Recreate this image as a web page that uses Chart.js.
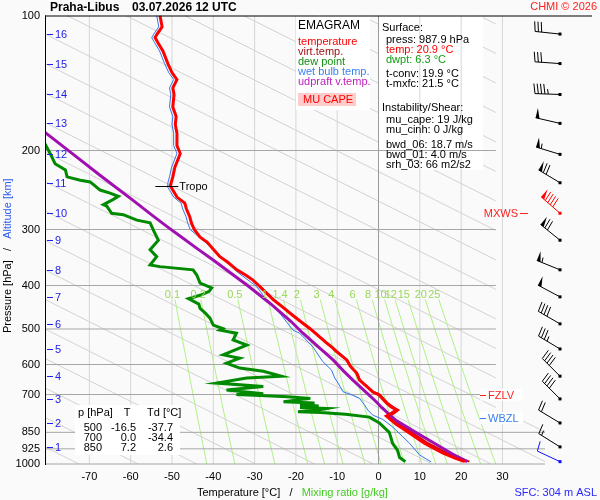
<!DOCTYPE html>
<html><head><meta charset="utf-8">
<script src="https://cdn.jsdelivr.net/npm/chart.js"></script>
<style>html,body{margin:0;padding:0;background:#fafafa;}canvas{display:block;}</style>
</head><body>
<canvas id="c" width="600" height="500" style="width:600px;height:500px"></canvas>
<script>
const FONT = "'Liberation Sans', Arial, Helvetica, sans-serif";

// ---- axes / grid ----
const X_MIN = -80.5, X_MAX = 40.3;
const X_TICKS = [-70, -60, -50, -40, -30, -20, -10, 0, 10, 20, 30];
const P_TICKS = [100, 200, 300, 400, 500, 600, 700, 850, 925, 1000];
const ISOTHERMS = [-70, -60, -50, -40, -30, -20, -10, 10, 20, 30];
const ISOBARS = [200, 300, 400, 500, 600, 700, 850, 925, 1000];
const ISOBAR_END = [28.4, 28.4, 28.4, 28.4, 28.4, 28.4, 40.3, 40.3, 40.3];
const MIX_RATIOS = [0.1, 0.2, 0.5, 1, 1.4, 2, 3, 4, 6, 8, 10, 12, 15, 20, 25];
const MIX_LABELS = ['0.1', '0.2', '0.5', '1', '1.4', '2', '3', '4', '6', '8', '10', '12', '15', '20', '25'];
const MIX_P = [430, 500, 600, 700, 800, 900, 1000];
// background diagonal guide lines: temperature at 1000 hPa of the first line, spacing, slope per pressure decade
const GUIDE_T1000_START = 469.0, GUIDE_STEP = 14.25, GUIDE_COUNT = 39, GUIDE_K = 216.7;

// ---- profiles ----
const TEMP_P = [988, 970, 945, 900, 850, 815, 782, 770, 758, 745, 731, 700, 691, 670, 650, 627, 606, 586, 560, 551, 537, 500, 485, 466, 447, 430, 416, 400, 389, 380, 369, 355, 345, 332, 320, 312, 300, 290, 281, 270, 262, 254, 245, 240, 236, 229, 218, 210, 203, 195, 183, 175, 168, 160, 150, 145, 139, 134, 128, 120, 115, 112, 110, 106, 100];
const TEMP_T = [20.9, 18.5, 15.5, 11.2, 7.2, 4.2, 1.9, 3.2, 4.3, 3.0, 1.9, 0.0, -1.4, -3.0, -4.6, -5.3, -6.8, -7.7, -10.3, -11.1, -12.6, -16.5, -18.4, -20.8, -23.2, -25.5, -27.1, -29.0, -30.4, -32.0, -34.3, -36.5, -38.4, -40.0, -41.5, -43.2, -44.6, -45.3, -45.7, -46.5, -46.9, -48.8, -49.8, -50.4, -50.2, -49.8, -49.3, -48.6, -48.0, -48.8, -48.8, -49.2, -49.0, -49.8, -49.5, -49.8, -48.8, -50.0, -51.0, -52.2, -53.4, -54.1, -53.6, -52.4, -52.9];

const VIRT_P = [988, 970, 945, 900, 850, 815, 782, 770, 758, 745, 731, 700, 691, 670, 650, 627, 606, 586, 560, 551, 537, 500, 485, 466, 447, 430, 416, 400];
const VIRT_T = [22.0, 19.6, 16.5, 12.1, 8.0, 4.9, 2.6, 3.8, 4.8, 3.4, 2.2, 0.3, -1.2, -2.8, -4.5, -5.2, -6.7, -7.6, -10.2, -11.0, -12.5, -16.4, -18.3, -20.7, -23.1, -25.4, -27.0, -28.9];

const WETB_P = [989, 954, 899, 870, 828, 795, 778, 758, 738, 714, 703, 690, 660, 643, 617, 591, 548, 511, 503, 461, 431, 402, 372, 327, 300, 290, 281, 270, 262, 254, 245, 240, 236, 229, 218, 210, 203, 195, 183, 175, 168, 160, 150, 145, 139, 134, 128, 120, 115, 112, 110, 106, 100];
const WETB_T = [12.7, 9.9, 7.5, 5.9, 3.5, 1.0, -1.4, -2.6, -3.4, -4.6, -6.2, -8.6, -9.8, -10.6, -11.4, -13.5, -15.9, -19.1, -20.7, -23.9, -27.1, -29.5, -34.4, -40.8, -45.6, -46.2, -46.6, -47.4, -47.8, -49.6, -50.6, -51.2, -51.0, -50.6, -50.1, -49.4, -48.8, -49.6, -49.6, -50.0, -49.8, -50.6, -50.3, -50.6, -49.6, -50.8, -51.8, -53.0, -54.2, -54.9, -54.4, -53.2, -53.7];

const DEW_P = [988, 967, 932, 899, 850, 810, 786, 775, 768, 765, 758, 752, 748, 742, 737, 731, 726, 714, 708, 703, 700, 697, 684, 672, 660, 643, 637, 621, 611, 596, 581, 571, 543, 529, 511, 503, 499, 490, 473, 460, 450, 440, 428, 420, 412, 405, 399, 395, 379, 369, 363, 360, 345, 333, 317, 301, 290, 286, 278, 276, 266, 264, 257, 253, 249, 245, 235, 233, 229, 221, 214, 203, 193];
const DEW_T = [6.5, 5.1, 4.6, 3.4, 2.6, 0.2, -2.2, -8.0, -14.0, -19.5, -14.6, -12.5, -19.0, -14.5, -19.0, -15.5, -23.0, -16.5, -22.0, -30.0, -34.4, -27.9, -36.8, -27.9, -39.2, -31.9, -23.5, -27.9, -33.6, -36.8, -33.6, -37.6, -31.9, -35.2, -34.4, -38.4, -37.7, -40.0, -40.8, -42.0, -43.2, -43.5, -46.0, -43.0, -41.0, -40.4, -42.0, -43.2, -44.0, -44.9, -52.9, -55.3, -53.7, -55.3, -53.3, -54.5, -55.3, -58.5, -61.8, -64.6, -65.8, -66.6, -64.2, -63.0, -65.0, -67.4, -69.8, -72.2, -75.4, -75.8, -78.3, -79.5, -80.8];

const UPD_P = [988, 950, 900, 850, 800, 780, 750, 720, 692, 650, 620, 586, 551, 511, 480, 438, 402, 375, 350, 331, 311, 296, 278, 258, 228, 203, 183, 175];
const UPD_T = [21.5, 17.9, 13.6, 9.0, 4.3, 2.9, 0.9, -1.0, -3.0, -6.2, -8.5, -11.0, -14.3, -18.3, -21.3, -26.3, -31.4, -35.8, -40.2, -43.9, -47.9, -51.1, -55.0, -59.5, -67.2, -74.2, -80.5, -83.0];

// ---- altitude scale and winds ----
const ALT_KM = [1, 2, 3, 4, 5, 6, 7, 8, 9, 10, 11, 12, 13, 14, 15, 16];
const ALT_P = [916, 810, 716, 637, 554, 487, 424, 369, 317, 276, 236, 204, 174, 150, 128, 110];
const WIND_P = [988, 916, 810, 716, 637, 554, 487, 424, 369, 317, 276, 236, 204, 174, 150, 128, 110];
const WIND_DIR = [295, 302, 301, 315, 315, 301, 300, 298, 292, 309, 311, 301, 287, 283, 272, 274, 276];
const WIND_SPD = [10, 15, 20, 40, 40, 35, 40, 50, 55, 70, 90, 70, 55, 50, 45, 30, 30];
const WIND_COLOR = ['#1010ff', '#000', '#000', '#000', '#000', '#000', '#000', '#000', '#000', '#000', '#ff0000', '#000', '#000', '#000', '#000', '#000', '#000'];

// ---- levels and table ----
const TROPO_P = 240, TROPO_T = -50.4;
const FZLV_P = 700, WBZL_P = 790, MXWS_P = 276;
const TABLE_P = [500, 700, 850];
const TABLE_T = [-16.5, 0.0, 7.2];
const TABLE_TD = [-37.7, -34.4, 2.6];

const SURFACE_LINES = [
  ['Surface:', '#000', 382, 27.5],
  ['press: 987.9 hPa', '#000', 386, 40],
  ['temp: 20.9 °C', '#ff0000', 386, 50],
  ['dwpt: 6.3 °C', '#10a010', 386, 60],
  ['t-conv: 19.9 °C', '#000', 386, 74],
  ['t-mxfc: 21.5 °C', '#000', 386, 84],
  ['Instability/Shear:', '#000', 382, 108],
  ['mu_cape: 19 J/kg', '#000', 386, 119.5],
  ['mu_cinh: 0 J/kg', '#000', 386, 129.5],
  ['bwd_06: 18.7 m/s', '#000', 386, 145],
  ['bwd_01: 4.0 m/s', '#000', 386, 155],
  ['srh_03: 66 m2/s2', '#000', 386, 165]
];
const LEGEND_ITEMS = [
  ['temperature', '#ff0000'],
  ['virt.temp.', '#a01010'],
  ['dew point', '#109010'],
  ['wet bulb temp.', '#3a80f0'],
  ['udpraft v.temp.', '#c020c0']
];

// ---------------------------------------------------------------
function pts(P, T) { return P.map((p, i) => ({ x: T[i], y: p })); }
const GAP = { x: null, y: null };

function mixT(w, p) { const e = w * p / (622 + w); const l = Math.log(e / 6.112); return 243.5 * l / (17.67 - l); }

const guideData = [];
for (let n = 0; n < GUIDE_COUNT; n++) {
  const t0 = GUIDE_T1000_START - n * GUIDE_STEP;
  const tAt = p => t0 - GUIDE_K * (3 - Math.log10(p));
  guideData.push({ x: tAt(790), y: 790 }, { x: t0, y: 1000 }, GAP);
  if (tAt(100) <= 28.4) {
    let endP = 790, endT = tAt(790);
    if (endT > 28.4) { endP = Math.pow(10, 3 - (t0 - 28.4) / GUIDE_K); endT = 28.4; }
    guideData.push({ x: tAt(100), y: 100 }, { x: endT, y: endP }, GAP);
  }
}
const mixData = [];
MIX_RATIOS.forEach(w => { MIX_P.forEach(p => mixData.push({ x: mixT(w, p), y: p })); mixData.push(GAP); });
const isoTData = [];
ISOTHERMS.forEach(t => isoTData.push({ x: t, y: 1000 }, { x: t, y: 100 }, GAP));
const isoPData = [];
ISOBARS.forEach((p, i) => isoPData.push({ x: X_MIN, y: p }, { x: ISOBAR_END[i], y: p }, GAP));

const base = { showLine: true, pointRadius: 0, pointHoverRadius: 0, fill: false, tension: 0, spanGaps: false };
const datasets = [
  Object.assign({ id: 'guide', data: guideData, borderColor: '#d2d2d2', borderWidth: 1 }, base),
  Object.assign({ id: 'mix', data: mixData, borderColor: '#b0f088', borderWidth: 1 }, base),
  Object.assign({ id: 'isoT', data: isoTData, borderColor: '#d6d6d6', borderWidth: 1 }, base),
  Object.assign({ id: 'isoT0', data: [{ x: 0, y: 1000 }, { x: 0, y: 100 }], borderColor: '#9a9a9a', borderWidth: 1 }, base),
  Object.assign({ id: 'isoP', data: isoPData, borderColor: '#a6a6a6', borderWidth: 1, clip: 1 }, base),
  Object.assign({ id: 'virt', data: pts(VIRT_P, VIRT_T), borderColor: '#e00000', borderWidth: 2 }, base),
  Object.assign({ id: 'wetb', data: pts(WETB_P, WETB_T), borderColor: '#2f78e8', borderWidth: 1 }, base),
  Object.assign({ id: 'dew', data: pts(DEW_P, DEW_T), borderColor: '#008a00', borderWidth: 3 }, base),
  Object.assign({ id: 'upd', data: pts(UPD_P, UPD_T), borderColor: '#a010b0', borderWidth: 3 }, base),
  Object.assign({ id: 'temp', data: pts(TEMP_P, TEMP_T), borderColor: '#ff0000', borderWidth: 3 }, base)
];
datasets.forEach((d, i) => { d.order = datasets.length - i; });

function drawBarb(c, x, y, dir, spd, color) {
  const r = dir * Math.PI / 180;
  const dx = Math.sin(r), dy = -Math.cos(r);
  const px = -dy, py = dx;
  const L = 25, BL = 10, SP = 3.3;
  c.save();
  c.strokeStyle = color; c.fillStyle = color; c.lineWidth = 1;
  c.beginPath(); c.moveTo(x, y); c.lineTo(x + dx * L, y + dy * L); c.stroke();
  c.fillRect(x - 1.5, y - 1.5, 3, 3);
  let s = spd, pos = L;
  while (s >= 50) {
    const bx = x + dx * pos, by = y + dy * pos;
    c.beginPath(); c.moveTo(bx, by); c.lineTo(bx + px * BL, by + py * BL);
    c.lineTo(x + dx * (pos - 4), y + dy * (pos - 4)); c.closePath(); c.fill();
    pos -= 5.5; s -= 50;
  }
  while (s >= 10) {
    const bx = x + dx * pos, by = y + dy * pos;
    c.beginPath(); c.moveTo(bx, by); c.lineTo(bx + px * BL + dx * 1.5, by + py * BL + dy * 1.5); c.stroke();
    pos -= SP; s -= 10;
  }
  if (s >= 5) {
    if (pos === L) pos -= SP;
    const bx = x + dx * pos, by = y + dy * pos;
    c.beginPath(); c.moveTo(bx, by); c.lineTo(bx + px * BL * 0.5 + dx * 0.8, by + py * BL * 0.5 + dy * 0.8); c.stroke();
  }
  c.restore();
}

function whiteBox(c, x0, y0, x1, y1, col) { c.fillStyle = col || '#ffffff'; c.fillRect(x0, y0, x1 - x0, y1 - y0); }

const emagramPlugin = {
  id: 'emagram',
  beforeDraw(chart) {
    const c = chart.ctx; c.save(); c.fillStyle = '#fafafa'; c.fillRect(0, 0, chart.width, chart.height); c.restore();
  },
  beforeDatasetDraw(chart, args) {
    const ds = chart.data.datasets[args.index];
    const c = chart.ctx;
    const ys = chart.scales.y;
    c.save();
    if (ds.id === 'mix') {
      whiteBox(c, 379, 16, 483, 170);
    }
    if (ds.id === 'virt') {
      whiteBox(c, 296, 16, 370, 110);
      whiteBox(c, 75, 405, 180, 455);
      const yf = ys.getPixelForValue(FZLV_P), yw = ys.getPixelForValue(WBZL_P);
      whiteBox(c, 480, yf - 6, 523, yf + 6);
      whiteBox(c, 480, yw - 6, 523, yw + 6);
    }
    c.restore();
  },
  afterDatasetsDraw(chart) {
    const c = chart.ctx;
    const xs = chart.scales.x, ys = chart.scales.y, ca = chart.chartArea;
    c.save();
    c.textBaseline = 'middle';
    const yTop = Math.round(ys.getPixelForValue(100)) - 0.5;
    c.strokeStyle = '#000'; c.lineWidth = 1;
    c.beginPath(); c.moveTo(ca.left - 1, yTop + 0.5); c.lineTo(592, yTop + 0.5); c.stroke();
    c.beginPath(); c.moveTo(Math.round(ca.left) - 0.5, yTop); c.lineTo(Math.round(ca.left) - 0.5, ca.bottom + 1); c.stroke();

    c.font = '11px ' + FONT; c.fillStyle = '#9ad85a'; c.textAlign = 'center';
    MIX_RATIOS.forEach((w, i) => { c.fillText(MIX_LABELS[i], xs.getPixelForValue(mixT(w, 400)), ys.getPixelForValue(420)); });

    c.font = '11px ' + FONT; c.textAlign = 'left';
    c.strokeStyle = '#2020ee'; c.fillStyle = '#2020ee';
    ALT_KM.forEach((km, i) => {
      const y = Math.round(ys.getPixelForValue(ALT_P[i])) + 0.5;
      c.beginPath(); c.moveTo(47, y); c.lineTo(53, y); c.stroke();
      c.fillText(String(km), 55, y);
    });

    const ty = Math.round(ys.getPixelForValue(TROPO_P)) + 0.5, tx = xs.getPixelForValue(TROPO_T);
    c.strokeStyle = '#000'; c.fillStyle = '#000';
    c.beginPath(); c.moveTo(tx - 15, ty); c.lineTo(tx + 8, ty); c.stroke();
    c.fillText('Tropo', tx + 9, ty);

    c.font = '12px ' + FONT; c.fillStyle = '#000';
    c.fillText('EMAGRAM', 298, 26);
    c.font = '11px ' + FONT;
    LEGEND_ITEMS.forEach((it, i) => { c.fillStyle = it[1]; c.fillText(it[0], 298, 42 + i * 10); });
    c.fillStyle = '#ffcccc'; c.fillRect(298, 93, 58, 13);
    c.fillStyle = '#ff0000'; c.fillText('MU CAPE', 303, 100);

    SURFACE_LINES.forEach(l => { c.fillStyle = l[1]; c.fillText(l[0], l[2], l[3]); });

    c.fillStyle = '#000';
    c.fillText('p [hPa]', 78, 413); c.textAlign = 'center'; c.fillText('T', 127, 413);
    c.textAlign = 'left'; c.fillText('Td [°C]', 147, 413);
    c.textAlign = 'right';
    TABLE_P.forEach((p, i) => {
      const y = 428 + i * 10;
      c.fillText(String(p), 102, y);
      c.fillText(TABLE_T[i].toFixed(1), 136, y);
      c.fillText(TABLE_TD[i].toFixed(1), 173, y);
    });

    c.textAlign = 'left';
    const yf = Math.round(ys.getPixelForValue(FZLV_P)) + 0.5, yw = Math.round(ys.getPixelForValue(WBZL_P)) + 0.5, ym = Math.round(ys.getPixelForValue(MXWS_P)) + 0.5;
    c.strokeStyle = '#ff2020'; c.fillStyle = '#ff2020';
    c.beginPath(); c.moveTo(480, yf); c.lineTo(486, yf); c.stroke(); c.fillText('FZLV', 488, yf);
    c.beginPath(); c.moveTo(520, ym); c.lineTo(528, ym); c.stroke(); c.textAlign = 'right'; c.fillText('MXWS', 518, ym);
    c.textAlign = 'left';
    c.strokeStyle = '#3a80f0'; c.fillStyle = '#3a80f0';
    c.beginPath(); c.moveTo(480, yw); c.lineTo(486, yw); c.stroke(); c.fillText('WBZL', 488, yw);

    const bx = ca.right + 15;
    WIND_P.forEach((p, i) => drawBarb(c, bx, ys.getPixelForValue(p), WIND_DIR[i], WIND_SPD[i], WIND_COLOR[i]));

    c.textAlign = 'left'; c.fillStyle = '#000';
    c.font = 'bold 12px ' + FONT;
    c.fillText('Praha-Libus', 50, 8);
    c.fillText('03.07.2026 12 UTC', 132, 8);
    c.font = '11px ' + FONT; c.fillStyle = '#ff2020'; c.textAlign = 'right';
    c.fillText('CHMI © 2026', 597, 7);
    c.fillStyle = '#2828ff';
    c.fillText('SFC: 304 m ASL', 597, 493);

    c.textAlign = 'left';
    let xx = 197;
    const p1 = 'Temperature [°C]', p2 = '   /   ', p3 = 'Mixing ratio [g/kg]';
    c.fillStyle = '#000'; c.fillText(p1, xx, 493); xx += c.measureText(p1).width;
    c.fillText(p2, xx, 493); xx += c.measureText(p2).width;
    c.fillStyle = '#44cc22'; c.fillText(p3, xx, 493);

    c.translate(8, 333); c.rotate(-Math.PI / 2);
    let yy = 0;
    const q1 = 'Pressure [hPa]', q3 = 'Altitude [km]';
    c.fillStyle = '#000'; c.fillText(q1, yy, 0); yy += c.measureText(q1).width;
    c.fillText(p2, yy, 0); yy += c.measureText(p2).width;
    c.fillStyle = '#2d5cf0'; c.fillText(q3, yy, 0);
    c.restore();
  }
};

new Chart(document.getElementById('c'), {
  type: 'scatter',
  data: { datasets },
  options: {
    responsive: false, animation: false, events: [],
    devicePixelRatio: 1,
    layout: { padding: { left: 0, right: 55, top: 15.5, bottom: 0 } },
    plugins: { legend: { display: false }, tooltip: { enabled: false } },
    scales: {
      x: {
        type: 'linear', min: X_MIN, max: X_MAX,
        grid: { display: false, drawTicks: false }, border: { display: false },
        afterBuildTicks: s => { s.ticks = X_TICKS.map(v => ({ value: v })); },
        afterFit: s => { s.height = 36; },
        ticks: { color: '#000', font: { family: FONT, size: 11 }, padding: 6, maxRotation: 0, autoSkip: false, callback: v => String(v) }
      },
      y: {
        type: 'logarithmic', reverse: true, min: 100, max: 1000,
        grid: { display: false, drawTicks: false }, border: { display: false },
        afterBuildTicks: s => { s.ticks = P_TICKS.map(v => ({ value: v })); },
        afterFit: s => { s.width = 46; },
        ticks: { color: '#000', font: { family: FONT, size: 11 }, padding: 6, autoSkip: false, callback: v => String(v) }
      }
    }
  },
  plugins: [emagramPlugin]
});
</script>
</body></html>
